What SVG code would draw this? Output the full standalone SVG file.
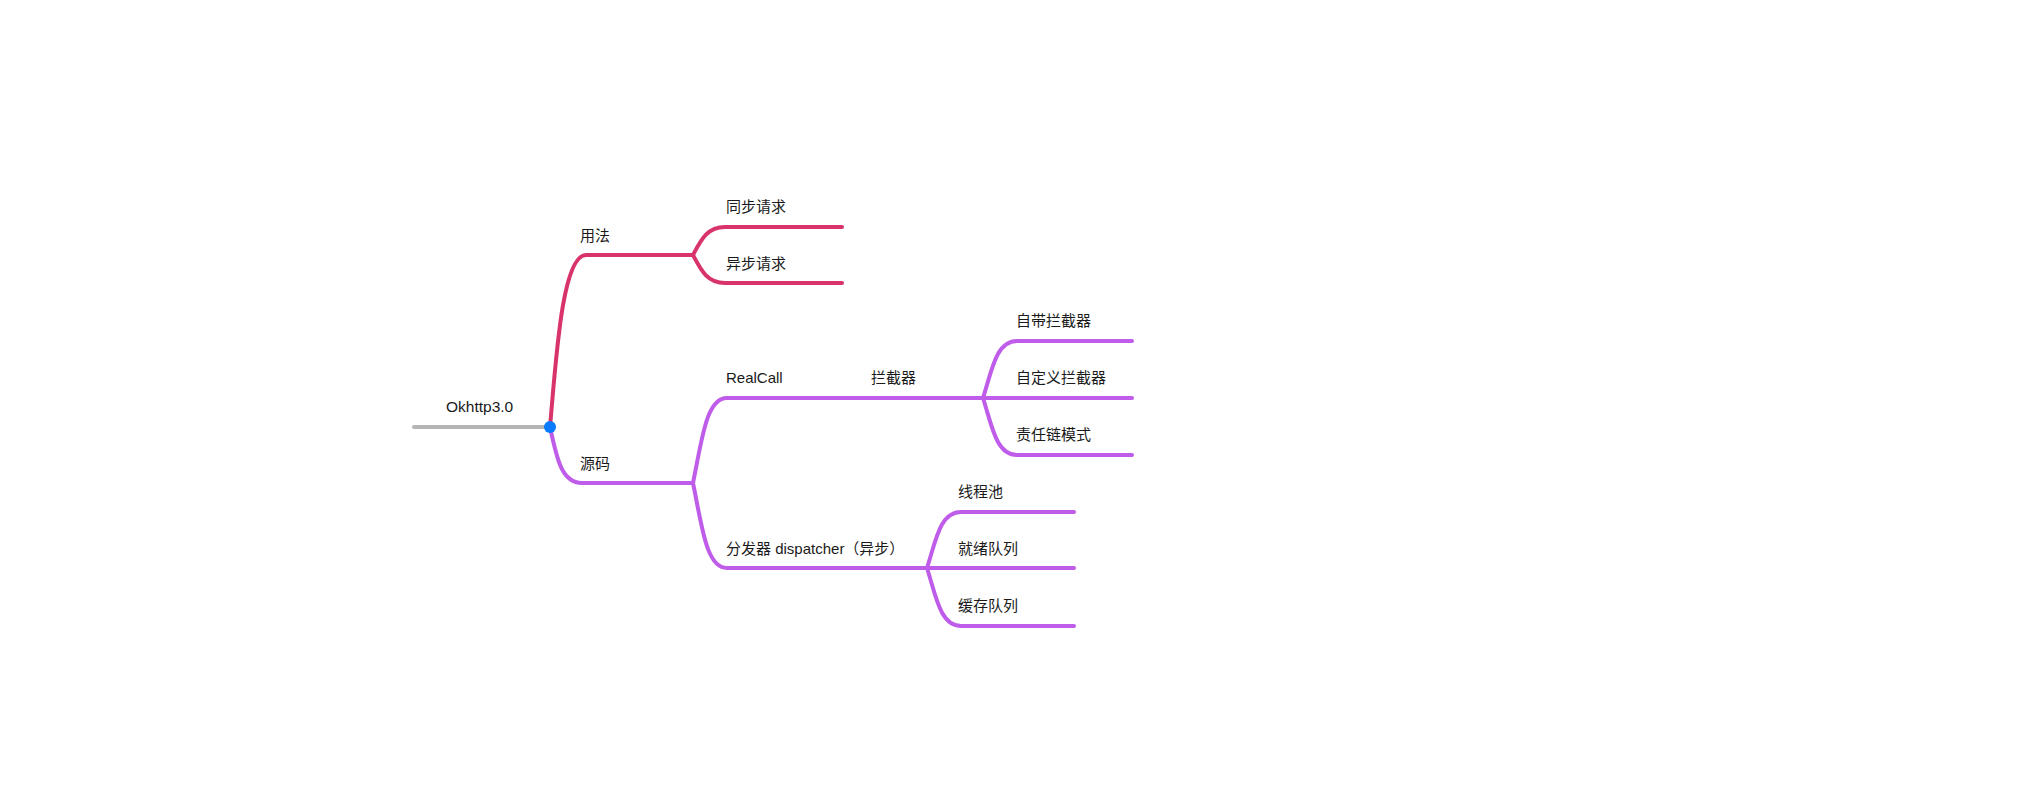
<svg xmlns="http://www.w3.org/2000/svg" width="2025" height="806" viewBox="0 0 2025 806">
<style>
text{font-family:"Liberation Sans","Noto Sans CJK SC",sans-serif;font-size:15px;fill:#1a1a1a}
.root{font-size:15.5px}
.l{fill:none;stroke-width:4;stroke-linecap:round;stroke-linejoin:round}
.r{stroke:#d8336b}
.p{stroke:#bf5ce9}
.g{stroke:#b5b5b5}
</style>
<rect width="2025" height="806" fill="#ffffff"/>
<g id="connectors">
<path class="l g" d="M414,427 L550,427"/>
<path class="l r" d="M550,427 C556,360 562,255 586,255 L693,255"/>
<path class="l r" d="M693,255 C701,240 707,227 725,227 L842,227"/>
<path class="l r" d="M693,255 C701,270 707,283 725,283 L842,283"/>
<path class="l p" d="M550,427 C557,460 562,483 582,483 L693,483"/>
<path class="l p" d="M693,483 C702,440 706,398 727,398 L983,398"/>
<path class="l p" d="M693,483 C702,526 706,568 727,568 L927,568"/>
<path class="l p" d="M983,398 C992,370 996,341 1017,341 L1132,341"/>
<path class="l p" d="M983,398 L1132,398"/>
<path class="l p" d="M983,398 C992,426 996,455 1017,455 L1132,455"/>
<path class="l p" d="M927,568 C936,540 940,512 961,512 L1074,512"/>
<path class="l p" d="M927,568 L1074,568"/>
<path class="l p" d="M927,568 C936,596 940,626 961,626 L1074,626"/>
</g>
<g id="root"><text class="root" x="446" y="412">Okhttp3.0</text><circle cx="550" cy="427" r="6" fill="#0a7bff"/></g>
<g id="n-yongfa"><text x="580" y="241">用法</text></g>
<g id="n-tongbu"><text x="726" y="212">同步请求</text></g>
<g id="n-yibu"><text x="726" y="269">异步请求</text></g>
<g id="n-yuanma"><text x="580" y="469">源码</text></g>
<g id="n-realcall"><text x="726" y="383">RealCall</text></g>
<g id="n-lanjieqi"><text x="871" y="383">拦截器</text></g>
<g id="n-zidai"><text x="1016" y="326">自带拦截器</text></g>
<g id="n-zidingyi"><text x="1016" y="383">自定义拦截器</text></g>
<g id="n-zerenlian"><text x="1016" y="440">责任链模式</text></g>
<g id="n-dispatcher"><text x="726" y="554">分发器 dispatcher（异步）</text></g>
<g id="n-xianchengchi"><text x="958" y="497">线程池</text></g>
<g id="n-jiuxu"><text x="958" y="554">就绪队列</text></g>
<g id="n-huancun"><text x="958" y="611">缓存队列</text></g>
</svg>
